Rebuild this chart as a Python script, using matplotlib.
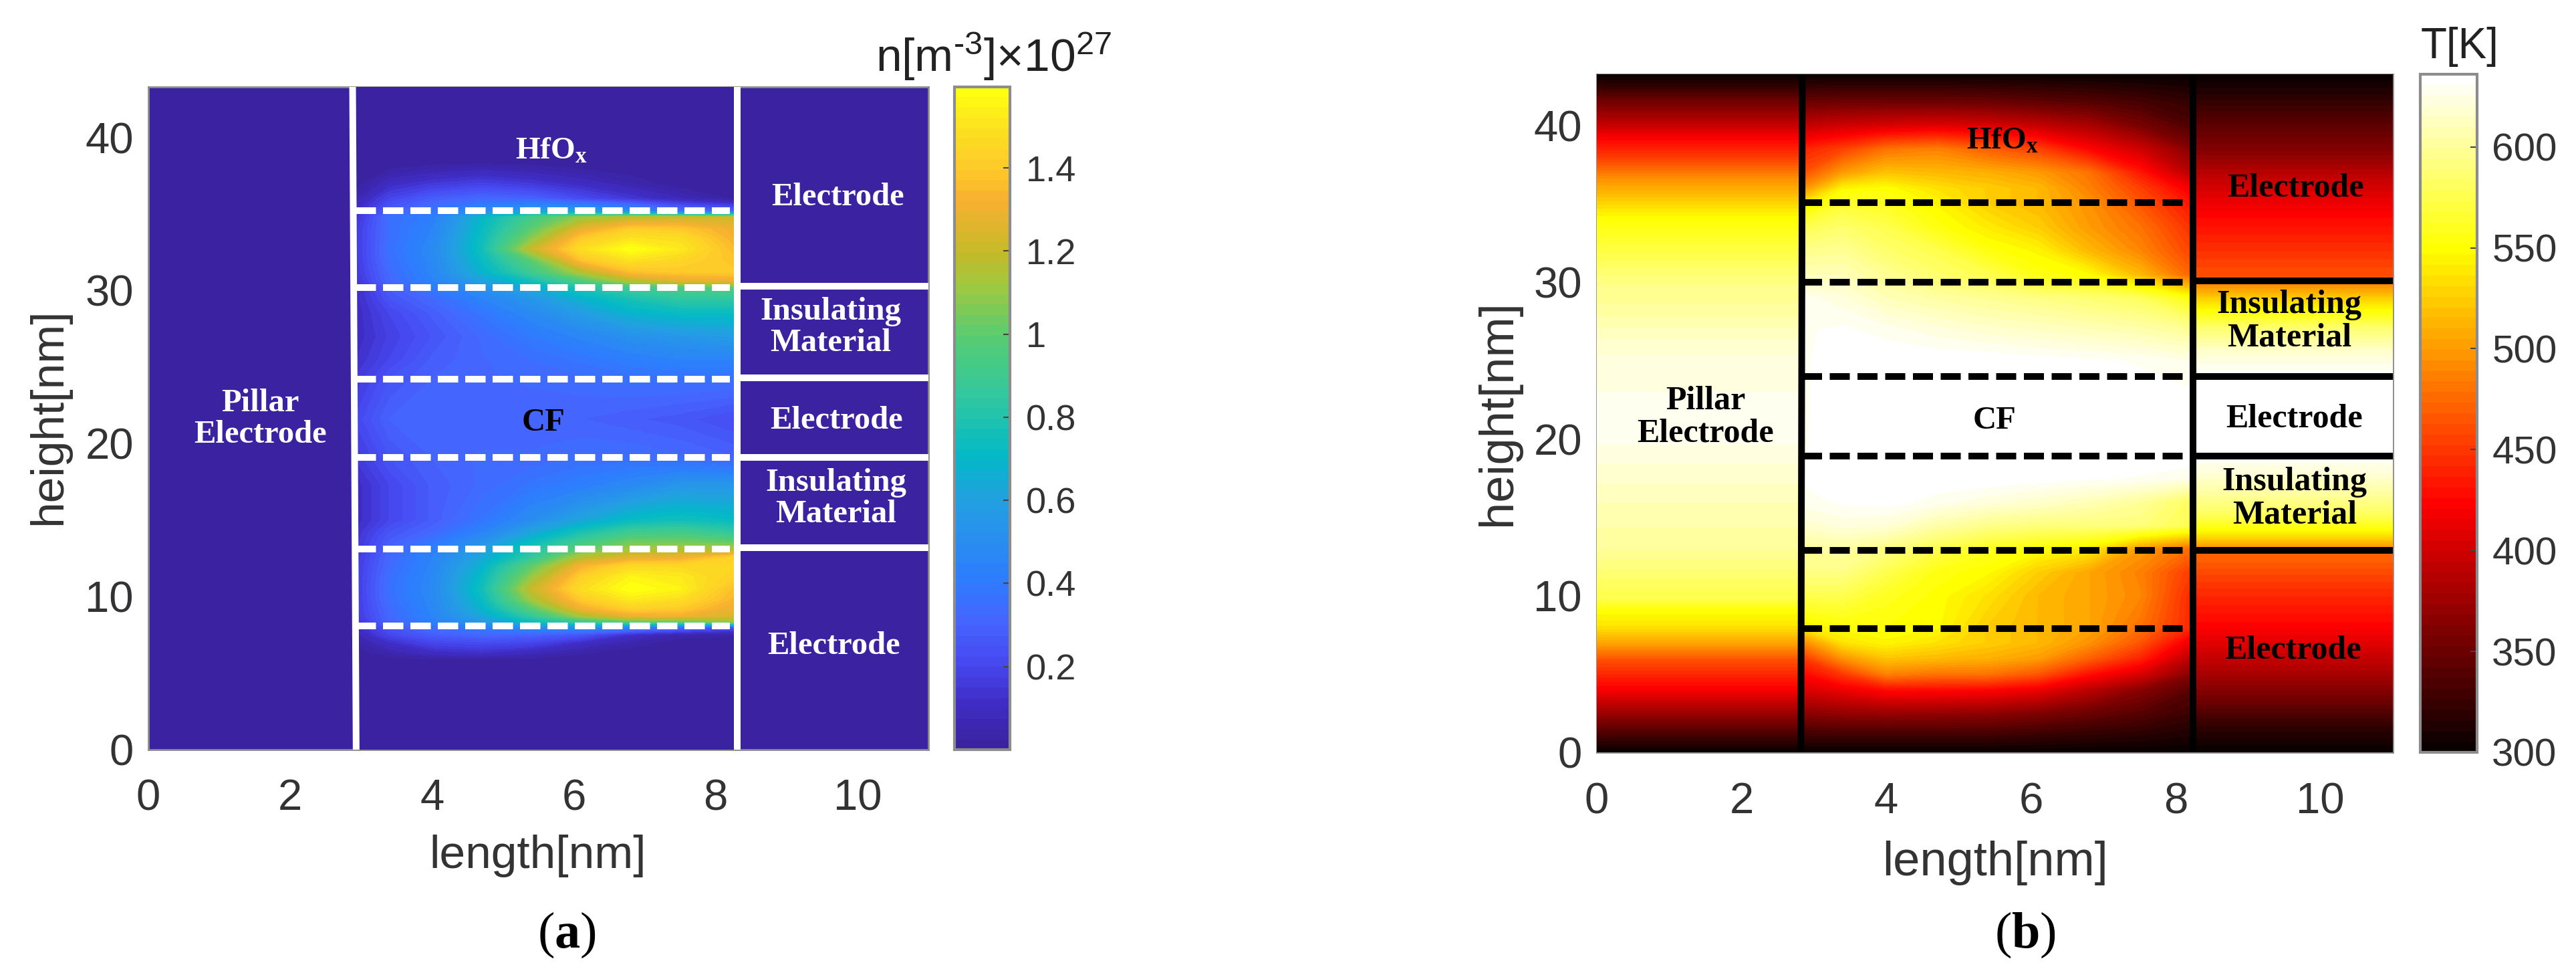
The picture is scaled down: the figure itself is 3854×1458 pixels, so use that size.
import numpy as np
import matplotlib
matplotlib.use('Agg')
import matplotlib.pyplot as plt
from matplotlib.colors import LinearSegmentedColormap, Normalize
from matplotlib.cm import ScalarMappable

plt.rcParams['font.family'] = ['Liberation Sans']
plt.rcParams['mathtext.default'] = 'regular'
plt.rcParams['mathtext.fontset'] = 'custom'
plt.rcParams['mathtext.rm'] = 'Liberation Sans'
plt.rcParams['mathtext.bf'] = 'Liberation Serif:bold'

W, H = 3855, 1458

# panel (a): n[m-3] x 10^27, oxide column
n_x = [2.9, 3.4, 4.0, 4.7, 5.4, 6.1, 6.8, 7.5, 8.27]
n_y = [0, 5.8, 6.3, 7, 7.5, 8.0, 8.3, 8.7, 9.2, 9.8, 10.5, 11.3, 12, 12.6, 13.1, 13.6, 14.2, 15,
       17.3, 19.1, 21.6, 24.2, 25.5, 27, 28.5, 29.5, 30.2, 30.6, 31.2, 32, 32.7, 33.4, 34, 34.8, 35.2,
       36, 37, 38, 38.5, 43.3]
n_oxide = [
    [0, 0, 0, 0, 0, 0, 0, 0, 0],
    [0, 0, 0, 0, 0, 0, 0, 0, 0],
    [0, .05, .1, .12, .08, .03, 0, 0, 0],
    [.03, .12, .2, .22, .2, .12, .05, 0, 0],
    [.06, .2, .28, .32, .3, .25, .12, .05, .03],
    [.1, .25, .35, .42, .5, .5, .45, .35, .25],
    [.12, .3, .42, .55, .72, .85, .95, .95, 1.05],
    [.14, .32, .45, .62, .85, 1.12, 1.28, 1.3, 1.24],
    [.15, .33, .46, .68, .98, 1.3, 1.42, 1.4, 1.28],
    [.15, .35, .47, .72, 1.12, 1.4, 1.52, 1.48, 1.33],
    [.15, .36, .48, .75, 1.2, 1.48, 1.595, 1.55, 1.36],
    [.15, .35, .47, .72, 1.1, 1.42, 1.55, 1.52, 1.42],
    [.15, .33, .46, .68, 1.0, 1.32, 1.46, 1.46, 1.45],
    [.14, .32, .45, .62, .85, 1.15, 1.26, 1.28, 1.42],
    [.13, .3, .42, .58, .8, 1.0, 1.12, 1.15, 1.15],
    [.13, .28, .38, .52, .72, .9, 1.03, 1.03, 1.0],
    [.12, .25, .32, .45, .62, .78, .9, .92, .85],
    [.1, .2, .28, .38, .5, .62, .72, .75, .72],
    [.1, .2, .28, .33, .38, .42, .48, .55, .55],
    [.15, .25, .3, .33, .33, .35, .35, .33, .3],
    [.2, .3, .3, .3, .3, .3, .28, .26, .22],
    [.15, .25, .3, .32, .33, .34, .36, .36, .36],
    [.12, .2, .28, .32, .35, .38, .42, .45, .45],
    [.1, .18, .25, .33, .4, .46, .52, .55, .58],
    [.1, .2, .28, .38, .48, .58, .68, .72, .72],
    [.1, .25, .33, .45, .55, .68, .78, .85, .85],
    [.1, .28, .4, .52, .65, .8, .9, .95, .98],
    [.12, .32, .44, .6, .75, .95, 1.15, 1.25, 1.28],
    [.14, .33, .46, .68, .9, 1.15, 1.36, 1.4, 1.4],
    [.15, .35, .47, .72, 1.0, 1.38, 1.5, 1.45, 1.38],
    [.15, .36, .48, .75, 1.2, 1.48, 1.595, 1.52, 1.35],
    [.15, .35, .46, .74, 1.08, 1.4, 1.5, 1.48, 1.32],
    [.15, .35, .45, .72, 1.0, 1.28, 1.42, 1.4, 1.3],
    [.12, .35, .42, .7, .92, 1.1, 1.18, 1.2, 1.22],
    [.1, .28, .38, .5, .6, .6, .5, .35, .3],
    [.05, .2, .28, .32, .3, .22, .15, .08, .02],
    [0, .1, .15, .18, .15, .1, .05, 0, 0],
    [0, .02, .04, .06, .04, .02, 0, 0, 0],
    [0, 0, 0, 0, 0, 0, 0, 0, 0],
    [0, 0, 0, 0, 0, 0, 0, 0, 0],
]
n_ticks = [0.2, 0.4, 0.6, 0.8, 1, 1.2, 1.4]
n_ticklabels = ['0.2', '0.4', '0.6', '0.8', '1', '1.2', '1.4']
n_max = 1.595

# colours (a)
n_stops = [(0, '#3a22a0'), (.1, '#3f2cc4'), (.2, '#4648f0'), (.3, '#4664ff'), (.4, '#2e7cff'),
           (.6, '#22a0e0'), (.7, '#02b8c8'), (.85, '#30c8a0'), (1.0, '#58cc70'), (1.12, '#a0c840'),
           (1.2, '#c4ba28'), (1.33, '#f8b030'), (1.4, '#ffc82a'), (1.5, '#fce020'), (1.595, '#ffff10')]

# panel (b): T[K]
t_x = [2.85, 3.4, 4.0, 4.7, 5.4, 6.1, 6.8, 7.5, 8.25]
t_y = [0, 1, 2.5, 4, 5, 6, 7, 8, 10, 11.5, 13, 14.5, 16, 17.5, 19, 21.5, 25, 27, 29, 30.5, 32,
       33.5, 35.1, 36, 37, 38.5, 40, 41.5, 43.3]
t_oxide = [
    [300, 300, 300, 300, 300, 300, 300, 300, 300],
    [325, 325, 325, 325, 325, 322, 318, 315, 310],
    [365, 370, 372, 370, 368, 360, 350, 340, 325],
    [405, 415, 428, 428, 425, 415, 390, 365, 340],
    [425, 450, 487, 480, 480, 465, 430, 405, 362],
    [450, 495, 520, 515, 510, 500, 470, 440, 385],
    [490, 535, 545, 535, 525, 515, 495, 465, 410],
    [540, 550, 552, 548, 525, 515, 505, 480, 440],
    [575, 575, 560, 550, 535, 515, 505, 490, 440],
    [593, 593, 575, 555, 548, 525, 505, 487, 450],
    [600, 603, 593, 575, 560, 550, 540, 500, 475],
    [617, 622, 620, 605, 595, 590, 590, 590, 575],
    [628, 632, 634, 628, 622, 617, 610, 600, 580],
    [632, 634, 636, 636, 636, 634, 632, 630, 625],
    [630, 636, 636, 636, 636, 636, 636, 636, 636],
    [630, 634, 636, 636, 636, 636, 636, 636, 636],
    [630, 634, 636, 636, 636, 634, 632, 630, 625],
    [630, 632, 628, 622, 617, 614, 610, 606, 598],
    [628, 622, 610, 603, 598, 593, 587, 580, 552],
    [610, 610, 598, 585, 575, 555, 548, 515, 470],
    [595, 598, 585, 575, 555, 545, 515, 490, 455],
    [575, 585, 575, 555, 540, 525, 500, 480, 445],
    [535, 565, 560, 545, 525, 515, 495, 465, 430],
    [495, 545, 550, 535, 525, 515, 487, 455, 415],
    [463, 500, 520, 515, 510, 500, 480, 435, 385],
    [440, 455, 480, 487, 470, 455, 425, 400, 362],
    [395, 400, 405, 408, 405, 395, 382, 358, 335],
    [350, 352, 352, 352, 350, 345, 340, 332, 322],
    [300, 300, 300, 300, 300, 300, 300, 300, 300],
]
# pillar column, depends only on height
pillar_y = [0, 2.05, 4.1, 5.8, 7, 8, 9, 9.8, 13, 16, 20, 24, 26, 28, 30, 32, 34.1, 35, 36.6, 38,
            39.2, 40.4, 41.6, 42.5, 43.3]
pillar_t = [300, 361, 423, 460, 505, 535, 550, 573, 600, 610, 627, 625, 618, 603, 593, 572, 550,
            530, 495, 452, 423, 385, 352, 322, 300]
# right stack, jumps at the layer lines
stack_y = [0, 1.6, 3.3, 5.3, 8, 10.3, 12.3, 12.8, 13.0, 13.6, 14.2, 15.2, 16.6, 17.8, 18.8, 19.0,
           24.0, 24.4, 25.6, 27.1, 28.2, 29, 29.8, 30.0, 30.2, 32, 34.4, 36.6, 38.5, 40.5, 42.3, 43.3]
stack_t = [300, 320, 352, 385, 423, 445, 470, 472, 490, 525, 550, 580, 603, 620, 630, 636,
           636, 630, 617, 585, 550, 525, 495, 480, 465, 447, 423, 395, 362, 337, 312, 300]
t_ticks = [300, 350, 400, 450, 500, 550, 600]
t_max = 636

dash_heights_a = [35.2, 30.2, 24.2, 19.1, 13.1, 8.1]
solid_heights_a = [30.3, 24.3, 19.1, 13.2]
dash_heights_b = [35.1, 30.0, 24.0, 18.9, 12.9, 7.9]
solid_heights_b = [30.1, 24.0, 18.9, 12.9]

x_ticks = [0, 2, 4, 6, 8, 10]
y_ticks = [0, 10, 20, 30, 40]
x_limit = 11
y_limit = 43.3
SPINE = '#8c8c8c'
TICK = '#333333'


def axes_px(fig, left, top, right, bottom):
    return fig.add_axes([left / W, 1 - bottom / H, (right - left) / W, (bottom - top) / H])


def style_axes(ax, xpad, ypad):
    ax.set_xlim(0, x_limit)
    ax.set_ylim(0, y_limit)
    ax.set_xticks(x_ticks)
    ax.set_yticks(y_ticks)
    ax.tick_params(length=0, labelsize=47, labelcolor=TICK)
    ax.tick_params(axis='x', pad=xpad)
    ax.tick_params(axis='y', pad=ypad)
    for s in ax.spines.values():
        s.set_color(SPINE)
        s.set_linewidth(2)
        s.set_zorder(1)


def style_colorbar(fig, cax, cmap, norm, ticks, labels, size, pad):
    cb = fig.colorbar(ScalarMappable(norm=norm, cmap=cmap), cax=cax)
    cb.set_ticks(ticks)
    cb.set_ticklabels(labels)
    cb.ax.tick_params(direction='in', length=7, width=1.5, color='#444444', labelsize=size,
                      labelcolor=TICK, pad=pad)
    cb.outline.set_edgecolor(SPINE)
    cb.outline.set_linewidth(3)
    return cb


def label(ax, x, y, s, color, size=35):
    ax.text(x, y, s, color=color, fontsize=size, family='Liberation Serif', weight='bold',
            ha='center', va='center', linespacing=1.1, zorder=6)


fig = plt.figure(figsize=(W / 100, H / 100), dpi=100, facecolor='white')

# (a)
cmap_a = LinearSegmentedColormap.from_list('n_map', [(v / n_max, c) for v, c in n_stops], N=64)
norm_a = Normalize(0, n_max)
levels_a = np.linspace(0, n_max, 65)
ax1 = axes_px(fig, 222, 130, 1389, 1121)
ax1.set_facecolor(cmap_a(0))
ax1.contourf(n_x, n_y, n_oxide, levels=levels_a, cmap=cmap_a, norm=norm_a, extend='both',
             antialiased=False, zorder=2)
ax1.plot([2.88, 2.93], [y_limit, 0], color='white', lw=7.2, solid_capstyle='butt', zorder=4)
ax1.axvline(8.3, color='white', lw=7.2, zorder=4)
for h in dash_heights_a:
    ax1.plot([2.92, 8.2], [h, h], color='white', lw=7.2, linestyle=(0, (3.05, 1.05)),
             dash_capstyle='butt', zorder=4)
for h in solid_heights_a:
    ax1.plot([8.3, x_limit], [h, h], color='white', lw=7.2, solid_capstyle='butt', zorder=4)
style_axes(ax1, 31, 16)
label(ax1, 5.68, 39.1, 'HfO$_{x}$', 'white', 34)
label(ax1, 5.57, 21.35, 'CF', 'black')
label(ax1, 1.575, 21.6, 'Pillar\nElectrode', 'white')
label(ax1, 9.72, 36.1, 'Electrode', 'white')
label(ax1, 9.62, 27.6, 'Insulating\nMaterial', 'white')
label(ax1, 9.70, 21.5, 'Electrode', 'white')
label(ax1, 9.70, 16.4, 'Insulating\nMaterial', 'white')
label(ax1, 9.67, 6.77, 'Electrode', 'white')

cax1 = axes_px(fig, 1428, 130, 1511, 1121)
style_colorbar(fig, cax1, cmap_a, norm_a, n_ticks, n_ticklabels, 39, 17)

fig.text(73 / W, 1 - 623 / H, 'height[nm]', rotation=90, fontsize=50, color=TICK, ha='center', va='center')
fig.text(805 / W, 1 - 1280 / H, 'length[nm]', fontsize=50, color=TICK, ha='center', va='center')
fig.text(1487 / W, 1 - 107 / H, 'n[m$^{\\text{-3}}$]×10$^{27}$', fontsize=50, color='#222222',
         ha='center', va='baseline')
fig.text(848 / W, 1 - 1398 / H, '($\\mathbf{a}$)', fontsize=55, family='Liberation Serif',
         color='black', ha='center', va='center')

# (b)
cmap_b = plt.get_cmap('hot', 64)
norm_b = Normalize(300, t_max)
levels_b = np.linspace(300, t_max, 65)
ax2 = axes_px(fig, 2389, 111, 3580, 1125)
ax2.contourf([0, 2.85], pillar_y, np.column_stack([pillar_t, pillar_t]), levels=levels_b, cmap=cmap_b,
             norm=norm_b, extend='both', antialiased=False, zorder=2)
ax2.contourf(t_x, t_y, t_oxide, levels=levels_b, cmap=cmap_b, norm=norm_b, extend='both',
             antialiased=False, zorder=2)
ax2.contourf([8.25, x_limit], stack_y, np.column_stack([stack_t, stack_t]), levels=levels_b, cmap=cmap_b,
             norm=norm_b, extend='both', antialiased=False, zorder=2)
ax2.plot([2.84, 2.82], [y_limit, 0], color='black', lw=7.2, solid_capstyle='butt', zorder=4)
ax2.axvline(8.24, color='black', lw=7.2, zorder=4)
for h in dash_heights_b:
    ax2.plot([2.84, 8.14], [h, h], color='black', lw=7.2, linestyle=(0, (3.0, 1.15)),
             dash_capstyle='butt', zorder=4)
for h in solid_heights_b:
    ax2.plot([8.24, x_limit], [h, h], color='black', lw=7.2, solid_capstyle='butt', zorder=4)
style_axes(ax2, 32, 16)
label(ax2, 5.61, 39.0, 'HfO$_{x}$', 'black', 34)
label(ax2, 5.50, 21.2, 'CF', 'black')
label(ax2, 1.50, 21.4, 'Pillar\nElectrode', 'black', 36)
label(ax2, 9.66, 36.0, 'Electrode', 'black', 36)
label(ax2, 9.57, 27.5, 'Insulating\nMaterial', 'black', 36)
label(ax2, 9.64, 21.3, 'Electrode', 'black', 36)
label(ax2, 9.64, 16.2, 'Insulating\nMaterial', 'black', 36)
label(ax2, 9.62, 6.5, 'Electrode', 'black', 36)

cax2 = axes_px(fig, 3621, 111, 3706, 1125)
style_colorbar(fig, cax2, cmap_b, norm_b, t_ticks, [str(t) for t in t_ticks], 42, 16)

fig.text(2242 / W, 1 - 617 / H, 'height[nm]', rotation=90, fontsize=52, color=TICK, ha='center', va='center')
fig.text(2985 / W, 1 - 1290 / H, 'length[nm]', fontsize=52, color=TICK, ha='center', va='center')
fig.text(3680 / W, 1 - 87 / H, 'T[K]', fontsize=46, color='#222222', ha='center', va='baseline')
fig.text(3030 / W, 1 - 1398 / H, '($\\mathbf{b}$)', fontsize=55, family='Liberation Serif',
         color='black', ha='center', va='center')

fig.savefig('out.png', dpi=100, facecolor='white')
